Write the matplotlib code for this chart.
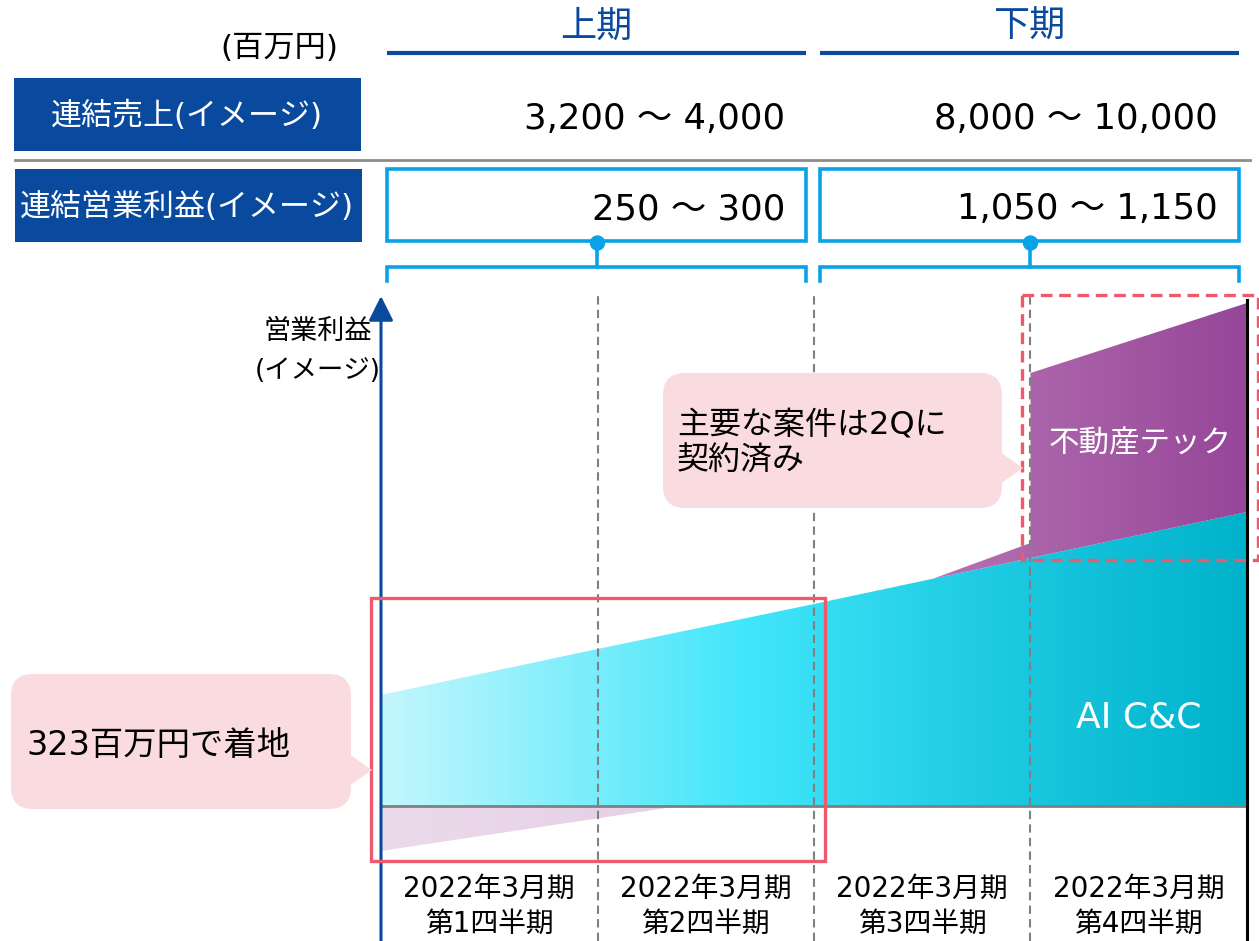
import numpy as np
import matplotlib
matplotlib.use("Agg")
import matplotlib.pyplot as plt
from matplotlib.patches import Rectangle, FancyBboxPatch, Polygon, Circle
from matplotlib.colors import LinearSegmentedColormap

# Latin letters and digits in a wide humanist face, Japanese from Noto CJK
plt.rcParams['font.family'] = ['DejaVu Sans', 'Noto Sans CJK JP']

# ---- data ----
periods = ['上期', '下期']
sales_ranges = ['3,200 ～ 4,000', '8,000 ～ 10,000']
profit_ranges = ['250 ～ 300', '1,050 ～ 1,150']
quarter_labels = ['2022年3月期\n第1四半期', '2022年3月期\n第2四半期',
                  '2022年3月期\n第3四半期', '2022年3月期\n第4四半期']
quarter_edges = [0, 1, 2, 3, 4]
ai_cc = [111, 157, 202, 248, 294]
re_tech_neg_x = [0, 1.38]
re_tech_neg = [-45, 0]
re_tech_pos_x = [2.55, 3.0, 3.0, 4.0]
re_tech_pos = [0, 15, 185, 209]

NAVY = '#0A4A9E'
SKY = '#0AA2E6'
RED = '#EC5A6B'
PINK = '#FADCE0'
GRAY = '#808080'

W, H = 1259, 941
fig = plt.figure(figsize=(W / 100, H / 100), dpi=100)

# ---- header layer (pixel coordinates) ----
bg = fig.add_axes([0, 0, 1, 1])
bg.set_xlim(0, W)
bg.set_ylim(H, 0)
bg.axis('off')

bg.text(279, 48, '(百万円)', fontsize=22.5, ha='center', va='center', color='black')

halves = [(387, 806), (820, 1239)]
for (x0, x1), name, s, p in zip(halves, periods, sales_ranges, profit_ranges):
    xc = (x0 + x1) / 2
    bg.text(xc, 27, name, fontsize=26, ha='center', va='center', color=NAVY)
    bg.plot([x0, x1], [53, 53], color=NAVY, lw=3, solid_capstyle='butt')
    bg.text(x1 - 21, 119, s, fontsize=25.5, ha='right', va='center', color='black')
    bg.add_patch(Rectangle((x0, 169), x1 - x0, 72, fill=False, ec=SKY, lw=2.6))
    bg.text(x1 - 21, 209, p, fontsize=25.5, ha='right', va='center', color='black')
    xm = xc + 1
    bg.add_patch(Circle((xm, 243), 7, color=SKY, zorder=3))
    bg.plot([xm, xm], [243, 267], color=SKY, lw=2.6)
    bg.plot([x0, x0, x1, x1], [281, 267, 267, 281], color=SKY, lw=2.6,
            solid_joinstyle='miter')

bg.add_patch(Rectangle((14, 78), 347, 73, color=NAVY, lw=0))
bg.text(187, 116, '連結売上(イメージ)', fontsize=22.3, ha='center', va='center', color='white')
bg.plot([15, 1250], [160, 160], color='#8C8C8C', lw=2)
bg.add_patch(Rectangle((15, 169), 347, 73, color=NAVY, lw=0))
bg.text(187, 207, '連結営業利益(イメージ)', fontsize=22.3, ha='center', va='center', color='white')

bg.text(318, 332, '営業利益', fontsize=19.5, ha='center', va='center', color='black')
bg.text(318, 371, '(イメージ)', fontsize=19, ha='center', va='center', color='black')

# ---- chart layer ----
top_px, base_px, left_px, right_px = 290, 806, 381, 1247
ymin, ymax = -(H - base_px), base_px - top_px
ch = fig.add_axes([left_px / W, 0, (right_px - left_px) / W, (H - top_px) / H])
ch.set_xlim(0, 4)
ch.set_ylim(ymin, ymax)
ch.axis('off')
ch.patch.set_alpha(0)


def gradient_fill(ax, x, lower, upper, cmap, z):
    poly = ax.fill_between(x, lower, upper, facecolor='none', edgecolor='none', lw=0)
    grad = np.linspace(0, 1, 512).reshape(1, -1)
    im = ax.imshow(grad, cmap=cmap, aspect='auto', extent=[0, 4, ymin, ymax],
                   origin='lower', interpolation='bilinear', zorder=z)
    im.set_clip_path(poly.get_paths()[0], transform=ax.transData)


cyan_cmap = LinearSegmentedColormap.from_list(
    'cy', [(0, '#C4F7FD'), (0.42, '#42E6FA'), (0.7, '#1ECBE3'), (1, '#00B2CA')])
purple_cmap = LinearSegmentedColormap.from_list(
    'pu', [(0, '#EBDAEC'), (0.35, '#E5CFE6'), (0.64, '#B672B5'), (0.76, '#AB64A9'), (1, '#964699')])

gradient_fill(ch, quarter_edges, np.zeros(5), ai_cc, cyan_cmap, 1)
gradient_fill(ch, re_tech_neg_x, re_tech_neg, np.zeros(2), purple_cmap, 1)
base = np.interp(re_tech_pos_x, quarter_edges, ai_cc)
gradient_fill(ch, re_tech_pos_x, base, base + np.array(re_tech_pos), purple_cmap, 1)
ch.set_xlim(0, 4)
ch.set_ylim(ymin, ymax)

ch.plot([0, 4], [0, 0], color=GRAY, lw=2, zorder=3)
for q in quarter_edges[1:4]:
    ch.plot([q, q], [ymin, ymax - 5], color=GRAY, lw=1.5, ls=(0, (4, 2.5)), zorder=3)
ch.plot([4, 4], [ymin, ymax - 10], color='black', lw=2.2, zorder=3, clip_on=False)

ch.text(3.5, 88, 'AI C&C', fontsize=26, ha='center', va='center', color='white', zorder=4)
ch.text(3.506, 362, '不動産テック', fontsize=22, ha='center', va='center', color='white', zorder=4)

for i, lab in enumerate(quarter_labels):
    ch.text(i + 0.5, -100, lab, fontsize=20, ha='center', va='center',
            linespacing=1.3, color='black', zorder=4)

# ---- overlay layer: axis arrow, highlights, callouts ----
ov = fig.add_axes([0, 0, 1, 1])
ov.set_xlim(0, W)
ov.set_ylim(H, 0)
ov.axis('off')
ov.patch.set_alpha(0)

ov.annotate('', xy=(381, 296), xytext=(381, H + 2),
            arrowprops=dict(arrowstyle='-|>,head_length=0.6,head_width=0.3',
                            color=NAVY, lw=2.2, mutation_scale=25, shrinkA=0, shrinkB=0))

ov.add_patch(Rectangle((371, 598), 454, 263, fill=False, ec=RED, lw=2.4, zorder=5))
ov.add_patch(Rectangle((1022, 295), 236, 265, fill=False, ec=RED, lw=2.4,
                       ls=(0, (3.5, 2)), zorder=5))


def callout(x0, y0, x1, y1, tip):
    ov.add_patch(FancyBboxPatch((x0, y0), x1 - x0, y1 - y0,
                                boxstyle='round,pad=0,rounding_size=22',
                                fc=PINK, ec='none', zorder=6))
    ym = tip[1]
    ov.add_patch(Polygon([(x1 - 2, ym - 16), tip, (x1 - 2, ym + 16)],
                         closed=True, fc=PINK, ec='none', zorder=6))


callout(663, 373, 1002, 508, (1023, 468))
ov.text(677, 443, '主要な案件は2Qに\n契約済み', fontsize=23, ha='left', va='center',
        linespacing=1.25, color='black', zorder=7)

callout(11, 674, 351, 809, (372, 770))
ov.text(26, 745, '323百万円で着地', fontsize=24, ha='left', va='center',
        color='black', zorder=7)

fig.savefig('out.png', dpi=100)
